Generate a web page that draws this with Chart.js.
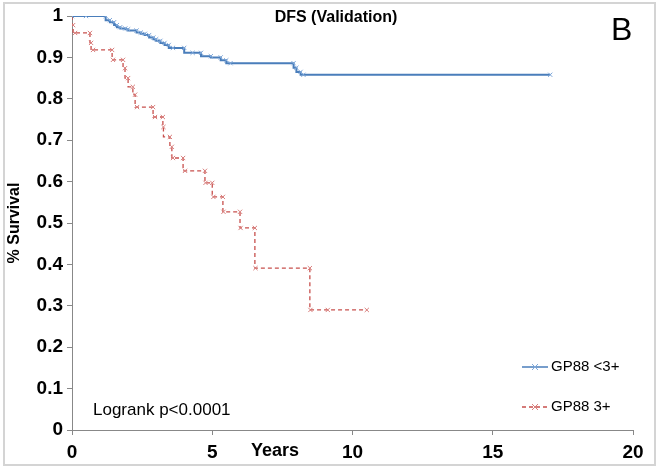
<!DOCTYPE html>
<html>
<head>
<meta charset="utf-8">
<script src="https://cdn.jsdelivr.net/npm/chart.js@4.4.0/dist/chart.umd.min.js"></script>
<style>
  body { margin: 0; background: #fff; }
  .container { position: relative; width: 658px; height: 469px; }
</style>
</head>
<body>
<div class="container">
  <canvas id="dfs_validation" width="658" height="469"></canvas>
</div>
<script>
// GP88 <3+ (blue)
const lowYears = [0, 0.5, 1.2, 1.35, 1.5, 1.6, 1.72, 1.9, 2.0, 2.3, 2.45, 2.6, 2.75, 2.9, 3.0, 3.15, 3.3, 3.45, 3.6, 4.0, 4.3, 4.6, 4.95, 5.3, 5.5, 5.65, 7.9, 8.0, 8.15, 8.25, 17.05]
const lowSurvival = [1, 1, 1, 0.99, 0.985, 0.978, 0.973, 0.97, 0.968, 0.965, 0.96, 0.957, 0.954, 0.948, 0.944, 0.94, 0.935, 0.93, 0.923, 0.923, 0.911, 0.911, 0.903, 0.9, 0.893, 0.886, 0.886, 0.875, 0.865, 0.858, 0.858]

// GP88 3+ (red)
const highYears = [0, 0.04, 0.11, 0.64, 0.68, 0.75, 1.43, 1.46, 1.82, 1.89, 2.0, 2.17, 2.25, 2.32, 2.89, 2.96, 3.24, 3.26, 3.49, 3.56, 3.6, 3.96, 4.03, 4.74, 4.76, 5.0, 5.04, 5.38, 5.4, 5.99, 6.01, 6.52, 6.54, 8.48, 8.5, 9.12, 10.51]
const highSurvival = [1, 0.978, 0.959, 0.959, 0.935, 0.918, 0.918, 0.894, 0.894, 0.874, 0.85, 0.829, 0.81, 0.78, 0.78, 0.756, 0.756, 0.732, 0.708, 0.684, 0.657, 0.657, 0.626, 0.626, 0.597, 0.597, 0.563, 0.563, 0.527, 0.527, 0.488, 0.488, 0.391, 0.391, 0.29, 0.29, 0.29]

const seriesNames = ['GP88 <3+', 'GP88 3+']
const xTicks = [0, 5, 10, 15, 20]

const blue = '#4A7EBB'
const blueMark = '#7FA8DA'
const red = '#C8504D'
const redMark = '#D9807E'

const lowPoints = lowYears.map((x, i) => ({ x: x, y: lowSurvival[i] }))
const highPoints = highYears.map((x, i) => ({ x: x, y: highSurvival[i] }))

const extras = {
  id: 'extras',
  beforeDraw(chart) {
    const c = chart.ctx
    c.save()
    c.fillStyle = '#fff'
    c.fillRect(0, 0, chart.width, chart.height)
    c.strokeStyle = '#d4d4d4'
    c.lineWidth = 2
    c.strokeRect(4, 3, 651, 462)
    c.restore()
  },
  afterDraw(chart) {
    const c = chart.ctx
    c.save()
    c.fillStyle = '#000'
    c.textBaseline = 'middle'

    c.font = 'bold 16px "Liberation Sans", Arial, sans-serif'
    c.textAlign = 'center'
    c.fillText('DFS (Validation)', 336, 18)
    c.font = 'bold 18px "Liberation Sans", Arial, sans-serif'
    c.fillText('Years', 275, 451)

    c.textAlign = 'left'
    c.font = '32px "Liberation Sans", Arial, sans-serif'
    c.fillText('B', 611, 31)
    c.font = '17px "Liberation Sans", Arial, sans-serif'
    c.fillText('Logrank p<0.0001', 93, 410)

    // legend
    const rows = [
      { y: 367, color: blue, mark: blueMark, dash: [] },
      { y: 407, color: red, mark: redMark, dash: [4, 3] }
    ]
    rows.forEach((r, i) => {
      c.strokeStyle = r.color
      c.lineWidth = 1.5
      c.setLineDash(r.dash)
      c.beginPath()
      c.moveTo(522, r.y)
      c.lineTo(548, r.y)
      c.stroke()
      c.setLineDash([])
      c.strokeStyle = r.mark
      c.lineWidth = 1
      c.beginPath()
      c.moveTo(532, r.y - 3); c.lineTo(538, r.y + 3)
      c.moveTo(538, r.y - 3); c.lineTo(532, r.y + 3)
      c.stroke()
      c.fillStyle = '#000'
      c.font = '15px "Liberation Sans", Arial, sans-serif'
      c.fillText(seriesNames[i], 551, r.y)
    })
    c.restore()
  }
}

const ctx = document.getElementById('dfs_validation')

new Chart(ctx, {
  type: 'line',
  data: {
    datasets: [
      {
        label: seriesNames[0],
        data: lowPoints,
        stepped: 'after',
        borderColor: blue,
        borderWidth: 2,
        pointStyle: 'crossRot',
        pointRadius: 3,
        pointBorderColor: blueMark,
        pointBorderWidth: 1,
        fill: false
      },
      {
        label: seriesNames[1],
        data: highPoints,
        stepped: 'after',
        borderColor: red,
        borderWidth: 1.3,
        borderDash: [4, 3],
        pointStyle: 'crossRot',
        pointRadius: 3,
        pointBorderColor: redMark,
        pointBorderWidth: 1,
        fill: false
      }
    ]
  },
  options: {
    responsive: false,
    animation: false,
    layout: { padding: { top: 16, right: 25, left: 0, bottom: 0 } },
    plugins: {
      legend: { display: false },
      tooltip: { enabled: false }
    },
    scales: {
      x: {
        type: 'linear',
        min: 0,
        max: 20,
        afterFit(scale) { scale.height = 39 },
        afterBuildTicks(scale) { scale.ticks = xTicks.map(v => ({ value: v })) },
        ticks: {
          color: '#000',
          padding: 6,
          font: { family: '"Liberation Sans", Arial, sans-serif', size: 19, weight: 'bold' }
        },
        grid: { drawOnChartArea: false, drawTicks: true, tickLength: 5, color: '#888' },
        border: { color: '#888', width: 1 }
      },
      y: {
        min: 0,
        max: 1,
        afterFit(scale) { scale.width = 72 },
        ticks: {
          stepSize: 0.1,
          color: '#000',
          padding: 4,
          callback: v => String(Number(v.toFixed(1))),
          font: { family: '"Liberation Sans", Arial, sans-serif', size: 19, weight: 'bold' }
        },
        title: {
          display: true,
          text: '% Survival',
          color: '#000',
          padding: { top: 5, bottom: 0 },
          font: { family: '"Liberation Sans", Arial, sans-serif', size: 16, weight: 'bold' }
        },
        grid: { drawOnChartArea: false, drawTicks: true, tickLength: 5, color: '#888' },
        border: { color: '#888', width: 1 }
      }
    }
  },
  plugins: [extras]
})
</script>
</body>
</html>
